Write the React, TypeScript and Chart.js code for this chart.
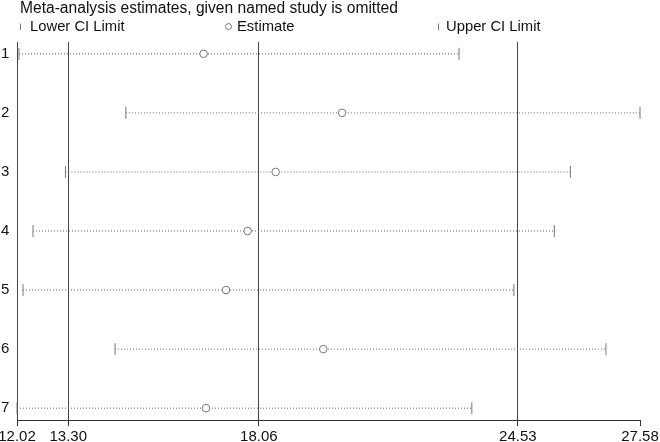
import React, { useEffect, useRef } from "react";
import { Chart, registerables } from "chart.js";

Chart.register(...registerables);

// ---- data ----
const studyLabels = ["1", "2", "3", "4", "5", "6", "7"];
const lowerCI = [12.07, 14.74, 13.23, 12.42, 12.17, 14.47, 12.02];
const estimates = [16.68, 20.14, 18.48, 17.78, 17.24, 19.67, 16.74];
const upperCI = [23.06, 27.58, 25.84, 25.44, 24.43, 26.73, 23.38];
const xTickValues = [12.02, 13.3, 18.06, 24.53, 27.58];
const referenceLines = [12.02, 13.3, 18.06, 24.53];
const titleText = "Meta-analysis estimates, given named study is omitted";
const legendLabels = ["Lower CI Limit", "Estimate", "Upper CI Limit"];

const FONT = "'Liberation Sans', Arial, sans-serif";
const MARK = "#777777";
const DOT = "#666666";
const REF = "#454545";
const TEXT = "#111111";

const headerPlugin = {
  id: "headerLegend",
  afterDraw(chart: any) {
    const ctx = chart.ctx as CanvasRenderingContext2D;
    ctx.save();
    ctx.font = `15.6px ${FONT}`;
    ctx.fillStyle = TEXT;
    ctx.textBaseline = "alphabetic";
    ctx.textAlign = "left";
    ctx.fillText(titleText, 20, 13);

    ctx.font = `14.8px ${FONT}`;
    // legend: lower CI
    ctx.strokeStyle = MARK;
    ctx.lineWidth = 1;
    ctx.beginPath();
    ctx.moveTo(20.5, 23.5);
    ctx.lineTo(20.5, 30);
    ctx.stroke();
    ctx.fillText(legendLabels[0], 30, 31);

    // legend: estimate
    ctx.beginPath();
    ctx.arc(228.5, 26.5, 3, 0, Math.PI * 2);
    ctx.fillStyle = "#ffffff";
    ctx.fill();
    ctx.stroke();
    ctx.fillStyle = TEXT;
    ctx.fillText(legendLabels[1], 237, 31);

    // legend: upper CI
    ctx.beginPath();
    ctx.moveTo(438.5, 23.5);
    ctx.lineTo(438.5, 30);
    ctx.stroke();
    ctx.fillText(legendLabels[2], 446, 31);
    ctx.restore();
  },
};

export default function App() {
  const canvasRef = useRef<HTMLCanvasElement | null>(null);

  useEffect(() => {
    const canvas = canvasRef.current;
    if (!canvas) return;

    const rowY = studyLabels.map((_, i) => i + 1);

    const ciLines = studyLabels.map((_, i) => ({
      type: "scatter" as const,
      data: [
        { x: lowerCI[i], y: rowY[i] },
        { x: upperCI[i], y: rowY[i] },
      ],
      showLine: true,
      borderColor: DOT,
      borderWidth: 1,
      borderDash: [1, 2],
      pointRadius: 0,
      clip: false as const,
    }));

    const chart = new Chart(canvas, {
      type: "scatter",
      data: {
        datasets: [
          {
            label: legendLabels[1],
            data: estimates.map((v, i) => ({ x: v, y: rowY[i] })),
            pointStyle: "circle",
            pointRadius: 3.8,
            borderColor: MARK,
            backgroundColor: "#ffffff",
            borderWidth: 1,
            clip: false as const,
          },
          {
            label: legendLabels[0],
            data: lowerCI.map((v, i) => ({ x: v, y: rowY[i] })),
            pointStyle: "line",
            rotation: 90,
            pointRadius: 6,
            borderColor: MARK,
            borderWidth: 1,
            clip: false as const,
          },
          {
            label: legendLabels[2],
            data: upperCI.map((v, i) => ({ x: v, y: rowY[i] })),
            pointStyle: "line",
            rotation: 90,
            pointRadius: 6,
            borderColor: MARK,
            borderWidth: 1,
            clip: false as const,
          },
          ...ciLines,
        ] as any,
      },
      options: {
        responsive: false,
        animation: false,
        devicePixelRatio: 1,
        layout: { padding: { left: 1, right: 20, top: 42, bottom: 0 } },
        plugins: {
          legend: { display: false },
          title: { display: false },
          tooltip: { enabled: false },
        },
        scales: {
          x: {
            type: "linear",
            min: xTickValues[0],
            max: xTickValues[xTickValues.length - 1],
            afterBuildTicks: (scale: any) => {
              scale.ticks = xTickValues.map((value) => ({ value }));
            },
            afterFit: (scale: any) => {
              scale.height = 22;
              scale.paddingLeft = 0;
              scale.paddingRight = 0;
            },
            ticks: {
              autoSkip: false,
              maxRotation: 0,
              padding: 2,
              color: TEXT,
              font: { family: FONT, size: 15 },
              callback: (v: any) => Number(v).toFixed(2),
            },
            grid: {
              drawOnChartArea: true,
              drawTicks: true,
              tickLength: 6,
              tickColor: "#333333",
              color: (c: any) =>
                c.tick && referenceLines.some((r) => Math.abs(r - c.tick.value) < 1e-9)
                  ? REF
                  : "rgba(0,0,0,0)",
              lineWidth: 1,
            },
            border: { display: true, color: "#333333", width: 1 },
          },
          y: {
            type: "linear",
            min: 0.8,
            max: 7.2,
            reverse: true,
            afterBuildTicks: (scale: any) => {
              scale.ticks = rowY.map((value) => ({ value }));
            },
            afterFit: (scale: any) => {
              scale.width = 16;
            },
            ticks: {
              autoSkip: false,
              crossAlign: "far",
              padding: 0,
              color: TEXT,
              font: { family: FONT, size: 15 },
              callback: (v: any) => studyLabels[Math.round(Number(v)) - 1] ?? "",
            },
            grid: { display: false, drawTicks: false },
            border: { display: false },
          },
        },
      } as any,
      plugins: [headerPlugin],
    });

    return () => {
      chart.destroy();
    };
  }, []);

  return (
    <div style={{ position: "absolute", left: 0, top: 0, width: 660, height: 442, background: "#ffffff" }}>
      <canvas ref={canvasRef} width={660} height={442} style={{ width: 660, height: 442, display: "block" }} />
    </div>
  );
}
